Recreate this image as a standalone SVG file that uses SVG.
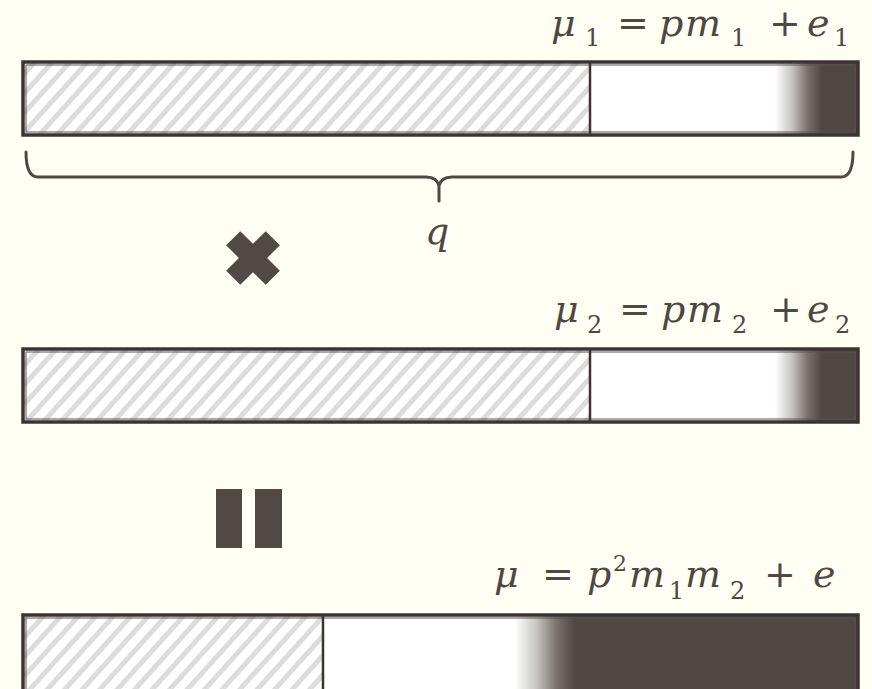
<svg xmlns="http://www.w3.org/2000/svg" width="872" height="689" viewBox="0 0 872 689">
<defs>
<pattern id="hatch" patternUnits="userSpaceOnUse" width="13" height="13" patternTransform="rotate(42)">
<rect width="13" height="13" fill="#ffffff"/>
<rect x="0" y="0" width="5" height="13" fill="#dcdcdc"/>
</pattern>
<linearGradient id="g1" gradientUnits="userSpaceOnUse" x1="775" y1="0" x2="822" y2="0">
<stop offset="0" stop-color="#ffffff"/>
<stop offset="0.35" stop-color="#c9c6c4"/>
<stop offset="0.7" stop-color="#77706c"/>
<stop offset="1" stop-color="#4f4742"/>
</linearGradient>
<linearGradient id="g3" gradientUnits="userSpaceOnUse" x1="515" y1="0" x2="575" y2="0">
<stop offset="0" stop-color="#ffffff"/>
<stop offset="0.35" stop-color="#c9c6c4"/>
<stop offset="0.7" stop-color="#77706c"/>
<stop offset="1" stop-color="#4f4742"/>
</linearGradient>
<style>
.outer{fill:none;stroke:#3b3432;stroke-width:3.5}
.inner{fill:none;stroke:#5a5350;stroke-width:1}
.div{stroke:#3b3432;stroke-width:2.5}
.eq{font-family:"DejaVu Serif","Liberation Serif",serif;font-size:38px;fill:#4f4742}
.it{font-style:italic}
.sub{font-size:24px;font-style:normal}
.sup{font-size:22px;font-style:normal}
.brace{fill:none;stroke:#4f4742;stroke-width:3;stroke-linecap:round}
.sym{fill:#514944}
</style>
</defs>
<rect width="872" height="689" fill="#fffff3"/>

<g id="bar1">
<rect x="23" y="62" width="568" height="73" fill="url(#hatch)"/>
<rect x="591" y="62" width="267" height="73" fill="url(#g1)"/>
<rect x="26" y="65" width="829" height="67" class="inner"/>
<line x1="590" y1="63" x2="590" y2="134" class="div"/>
<rect x="23" y="62" width="835" height="73" class="outer"/>
</g>

<g id="label1">
<text class="eq" y="36"><tspan class="it" x="551">μ</tspan><tspan class="sub" x="585" y="46">1</tspan><tspan x="617" y="36">=</tspan><tspan class="it" x="659">p</tspan><tspan class="it" x="685">m</tspan><tspan class="sub" x="731" y="46">1</tspan><tspan x="769" y="36">+</tspan><tspan class="it" x="807">e</tspan><tspan class="sub" x="834" y="46">1</tspan></text>
</g>

<g id="brace">
<path class="brace" d="M26,152 Q26,177 38,177 L426,177 Q437,177 439,186 L439,201 M439,186 Q441,177 452,177 L841,177 Q853,177 853,152"/>
<text class="eq it" x="425" y="244">q</text>
</g>

<g id="times">
<g transform="translate(253,258) rotate(45)">
<rect class="sym" x="-28" y="-10" width="56" height="20"/>
<rect class="sym" x="-10" y="-28" width="20" height="56"/>
</g>
</g>

<g id="label2">
<text class="eq" y="322"><tspan class="it" x="554">μ</tspan><tspan class="sub" x="587" y="333">2</tspan><tspan x="619" y="322">=</tspan><tspan class="it" x="661">p</tspan><tspan class="it" x="687">m</tspan><tspan class="sub" x="732" y="333">2</tspan><tspan x="770" y="322">+</tspan><tspan class="it" x="807">e</tspan><tspan class="sub" x="835" y="333">2</tspan></text>
</g>

<g id="bar2">
<rect x="23" y="349" width="568" height="73" fill="url(#hatch)"/>
<rect x="591" y="349" width="267" height="73" fill="url(#g1)"/>
<rect x="26" y="352" width="829" height="67" class="inner"/>
<line x1="590" y1="350" x2="590" y2="421" class="div"/>
<rect x="23" y="349" width="835" height="73" class="outer"/>
</g>

<g id="equals">
<rect class="sym" x="216" y="489" width="26" height="59"/>
<rect class="sym" x="255" y="489" width="27" height="59"/>
</g>

<g id="label3">
<text class="eq" y="587"><tspan class="it" x="494">μ</tspan><tspan x="542">=</tspan><tspan class="it" x="587">p</tspan><tspan class="sup" x="613" y="571">2</tspan><tspan class="it" x="629" y="587">m</tspan><tspan class="sub" x="669" y="599">1</tspan><tspan class="it" x="685" y="587">m</tspan><tspan class="sub" x="730" y="599">2</tspan><tspan x="764" y="587">+</tspan><tspan class="it" x="813">e</tspan></text>
</g>

<g id="bar3">
<rect x="23" y="615" width="300" height="90" fill="url(#hatch)"/>
<rect x="323" y="615" width="535" height="90" fill="url(#g3)"/>
<rect x="26" y="618" width="829" height="90" class="inner"/>
<line x1="323" y1="616" x2="323" y2="700" class="div"/>
<rect x="23" y="615" width="835" height="90" class="outer"/>
</g>
</svg>
